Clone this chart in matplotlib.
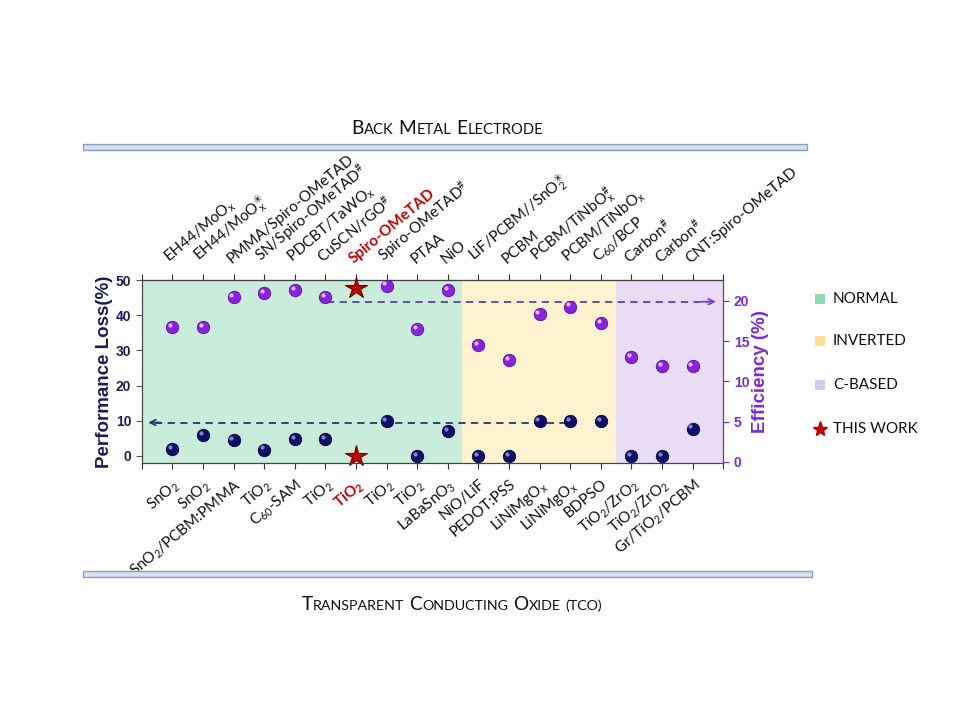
import matplotlib
matplotlib.use('Agg')
import matplotlib.pyplot as plt
import matplotlib.transforms as mtransforms
from matplotlib.patches import Rectangle

plt.rcParams['font.family'] = ['Lato', 'DejaVu Sans']
plt.rcParams['mathtext.fontset'] = 'custom'
plt.rcParams['mathtext.rm'] = 'Lato'
plt.rcParams['mathtext.sf'] = 'DejaVu Sans'
plt.rcParams['mathtext.default'] = 'regular'

# device index 1..18
x = list(range(1, 19))

AST = r'\mathsf{✳}'
top_labels = [r'EH44/MoO$_x$', r'EH44/MoO$_x^{' + AST + '}$', 'PMMA/Spiro-OMeTAD',
              r'SN/Spiro-OMeTAD$^{\#}$', r'PDCBT/TaWO$_x$', r'CuSCN/rGO$^{\#}$',
              'Spiro-OMeTAD', r'Spiro-OMeTAD$^{\#}$', 'PTAA', 'NiO',
              r'LiF/PCBM//SnO$_2^{' + AST + '}$', 'PCBM', r'PCBM/TiNbO$_x^{\#}$',
              r'PCBM/TiNbO$_x$', r'C$_{60}$/BCP', r'Carbon$^{\#}$', r'Carbon$^{\#}$',
              'CNT:Spiro-OMeTAD']
bottom_labels = [r'SnO$_2$', r'SnO$_2$', r'SnO$_2$/PCBM:PMMA', r'TiO$_2$', r'C$_{60}$-SAM',
                 r'TiO$_2$', r'TiO$_2$', r'TiO$_2$', r'TiO$_2$', r'LaBaSnO$_3$', 'NiO/LiF',
                 'PEDOT:PSS', r'LiNiMgO$_x$', r'LiNiMgO$_x$', 'BDPSO', r'TiO$_2$/ZrO$_2$',
                 r'TiO$_2$/ZrO$_2$', r'Gr/TiO$_2$/PCBM']

efficiency = [16.7, 16.7, 20.5, 21.0, 21.3, 20.5, 21.65, 21.9, 16.5, 21.3,
              14.5, 12.6, 18.4, 19.3, 17.2, 13.0, 11.9, 11.9]
perf_loss = [2.0, 6.0, 4.5, 1.8, 4.8, 4.8, 0.0, 10.0, 0.0, 7.0,
             0.0, 0.0, 10.0, 10.0, 10.0, 0.0, 0.0, 7.8]
this_work = 6  # index of the star

group_names = ['NORMAL', 'INVERTED', 'C-BASED']
group_edges = [0, 10.45, 15.5, 19]
group_bg = ['#C9EDDA', '#FFF3CF', '#E8DDF5']
group_key = ['#8FD8B2', '#FFE08C', '#D8C8EE']

loss_ref = 9.5
eff_ref = 19.9

NAVY = '#0D0D6B'
PURPLE = '#8A22E0'
RED = '#C00000'
TXT_NAVY = '#1C1C5C'
TXT_PURPLE = '#7A2BD6'

fig = plt.figure(figsize=(9.6, 7.2), dpi=100)
ax = fig.add_axes([0.1476, 0.3569, 0.6058, 0.2542])
ax2 = ax.twinx()

for i in range(3):
    ax.axvspan(group_edges[i], group_edges[i + 1], color=group_bg[i], lw=0, zorder=0)

ax.set_xlim(0, 19)
ax.set_ylim(-2, 50)
ax2.set_ylim(-0.15, 22.6)
ax.set_yticks(range(0, 51, 10))
ax2.set_yticks(range(0, 21, 5))


def spheres(axis, xs, ys, base, edge, shine):
    axis.scatter(xs, ys, s=80, c=base, edgecolors=edge, linewidths=0.6, zorder=4)
    off = mtransforms.offset_copy(axis.transData, fig=fig, x=-1.6, y=1.6, units='points')
    axis.scatter(xs, ys, s=9, c=shine, alpha=0.85, linewidths=0, transform=off, zorder=5)


xs = [v for i, v in enumerate(x) if i != this_work]
spheres(ax, xs, [v for i, v in enumerate(perf_loss) if i != this_work], NAVY, '#05053A', '#9A9AE0')
spheres(ax2, xs, [v for i, v in enumerate(efficiency) if i != this_work], PURPLE, '#5A0FA0', '#F0D8FF')
ax.plot(x[this_work], perf_loss[this_work], marker='*', ms=16, color=RED, mec='#6A0000', mew=0.8, zorder=6, clip_on=False)
ax2.plot(x[this_work], efficiency[this_work], marker='*', ms=16, color=RED, mec='#6A0000', mew=0.8, zorder=6, clip_on=False)

# guide arrows
ax.plot([0.45, 14], [loss_ref, loss_ref], ls='--', dashes=(4, 3), color='#1F3A6E', lw=1.3, zorder=3)
ax.annotate('', xy=(0.12, loss_ref), xytext=(0.7, loss_ref),
            arrowprops=dict(arrowstyle='->', color='#1F3A6E', lw=1.3))
ax2.plot([6.05, 18.5], [eff_ref, eff_ref], ls='--', dashes=(4, 3), color='#5540B8', lw=1.3, zorder=3)
ax2.annotate('', xy=(18.85, eff_ref), xytext=(18.2, eff_ref),
             arrowprops=dict(arrowstyle='->', color='#7A3FD0', lw=1.3))

# x labels
ax.set_xticks(range(0, 20), labels=[''] + bottom_labels + [''])
ax.tick_params(axis='x', direction='out', length=4, pad=6, labelsize=11, colors='#333333')
for i, lbl in enumerate(ax.get_xticklabels()):
    lbl.set_rotation(40)
    lbl.set_ha('right')
    lbl.set_va('top')
    lbl.set_rotation_mode('anchor')
    lbl.set_color('#111111')
    if i == this_work + 1:
        lbl.set_color(RED)
        lbl.set_fontweight('bold')

sec = ax.secondary_xaxis('top')
sec.set_xticks(range(0, 20), labels=[''] + top_labels + [''])
sec.tick_params(axis='x', direction='out', length=4, pad=6, labelsize=11, colors='#333333')
sec.spines['top'].set_color('#333333')
for i, lbl in enumerate(sec.get_xticklabels()):
    lbl.set_rotation(40)
    lbl.set_ha('left')
    lbl.set_va('bottom')
    lbl.set_rotation_mode('anchor')
    lbl.set_color('#111111')
    if i == this_work + 1:
        lbl.set_color(RED)
        lbl.set_fontweight('bold')

# y axes
ax.tick_params(axis='y', direction='out', length=4, labelsize=10, colors='#555555', labelcolor=TXT_NAVY)
for lbl in ax.get_yticklabels():
    lbl.set_fontweight('bold')
    lbl.set_family('Liberation Sans')
ax2.tick_params(axis='y', direction='out', length=4, labelsize=10, colors=TXT_PURPLE, labelcolor=TXT_PURPLE)
for lbl in ax2.get_yticklabels():
    lbl.set_fontweight('bold')
    lbl.set_family('Liberation Sans')
ax.set_ylabel('Performance Loss(%)', fontsize=13.5, fontweight='bold', color=TXT_NAVY,
              family='Liberation Sans', labelpad=2)
ax2.set_ylabel('Efficiency (%)', fontsize=13.5, fontweight='bold', color=TXT_PURPLE,
               family='Liberation Sans', labelpad=2)
for s in ['left', 'bottom', 'top']:
    ax.spines[s].set_color('#444444')
    ax2.spines[s].set_color('#444444')
ax2.spines['right'].set_color(TXT_PURPLE)

# legend on the right
leg_y = [0.5847, 0.5264, 0.4653, 0.4042]
for i, name in enumerate(group_names):
    fig.patches.append(Rectangle((0.849, leg_y[i] - 0.0075), 0.0105, 0.014, transform=fig.transFigure,
                                 facecolor=group_key[i], edgecolor='none'))
    fig.text(0.8677, leg_y[i], name, fontsize=11, va='center', ha='left', color='#111111')
fig.lines.append(plt.Line2D([0.8545], [leg_y[3]], marker='*', ms=11, color=RED, mec=RED,
                            transform=fig.transFigure))
fig.text(0.8677, leg_y[3], 'THIS WORK', fontsize=11, va='center', ha='left', color='#111111')

# electrode bars
for (x0, x1, y0) in [(83, 807, 144), (83, 812, 571)]:
    fig.patches.append(Rectangle((x0 / 960, 1 - (y0 + 6) / 720), (x1 - x0) / 960, 6 / 720,
                                 transform=fig.transFigure, facecolor='#D8E0EF',
                                 edgecolor='#8C9DC2', lw=1.0))


def small_caps(text, xc, y, big=15, small=11.5):
    renderer = fig.canvas.get_renderer()
    pieces = []
    cur = xc
    space = big * 0.27 * fig.dpi / 72 / fig.bbox.width
    for w_i, word in enumerate(text.split(' ')):
        if w_i:
            cur += space
        runs = []
        for ch in word:
            is_big = ch.isupper()
            if runs and runs[-1][1] == is_big:
                runs[-1][0] += ch
            else:
                runs.append([ch, is_big])
        for run, is_big in runs:
            t = fig.text(cur, y, run.upper(), fontsize=big if is_big else small,
                         va='baseline', ha='left', color='#111111')
            cur += t.get_window_extent(renderer).width / fig.bbox.width
            pieces.append(t)
    shift = (cur - xc) / 2
    for t in pieces:
        px, py = t.get_position()
        t.set_position((px - shift, py))


small_caps('Back Metal Electrode', 447 / 960, 1 - 134 / 720, big=13.8, small=10.6)
small_caps('Transparent Conducting Oxide (tco)', 452 / 960, 1 - 610 / 720, big=13.6, small=10.3)

fig.savefig('out.png', dpi=100)
